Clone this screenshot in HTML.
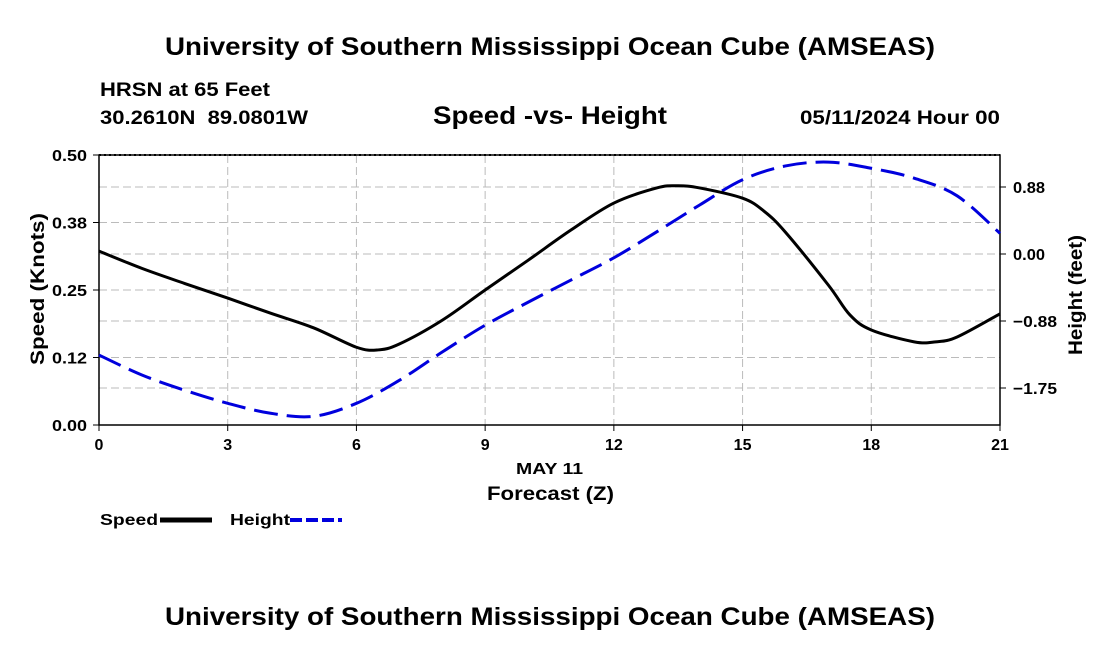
<!DOCTYPE html>
<html><head><meta charset="utf-8"><style>
body{margin:0;background:#fff;}
svg text{font-family:"Liberation Sans",Arial,sans-serif;font-weight:bold;fill:#000;white-space:pre;}
</style></head><body>
<svg width="1100" height="650" viewBox="0 0 1100 650">
<text x="165" y="55" font-size="25" textLength="770" lengthAdjust="spacingAndGlyphs">University of Southern Mississippi Ocean Cube (AMSEAS)</text>
<text x="100" y="96" font-size="19" textLength="170" lengthAdjust="spacingAndGlyphs">HRSN at 65 Feet</text>
<text x="100" y="124" font-size="19" textLength="208" lengthAdjust="spacingAndGlyphs" xml:space="preserve">30.2610N  89.0801W</text>
<text x="433" y="124" font-size="25" textLength="234" lengthAdjust="spacingAndGlyphs">Speed -vs- Height</text>
<text x="800" y="124" font-size="19" textLength="200" lengthAdjust="spacingAndGlyphs">05/11/2024 Hour 00</text>
<g id="grid"></g>
<rect x="99" y="155" width="901" height="270" fill="none" stroke="#000" stroke-width="1.5"/>
<line x1="99" y1="155" x2="1000" y2="155" stroke="#000" stroke-width="2" stroke-dasharray="2,3"/>
<g id="axes"></g>
<g id="series"></g>
<text x="516" y="474" font-size="16" textLength="67" lengthAdjust="spacingAndGlyphs">MAY 11</text>
<text x="487" y="500" font-size="19" textLength="127" lengthAdjust="spacingAndGlyphs">Forecast (Z)</text>
<text x="44" y="289" font-size="19" text-anchor="middle" textLength="152" lengthAdjust="spacingAndGlyphs" transform="rotate(-90 44 289)">Speed (Knots)</text>
<text x="1082" y="295" font-size="19" text-anchor="middle" textLength="120" lengthAdjust="spacingAndGlyphs" transform="rotate(-90 1082 295)">Height (feet)</text>
<g>
<text x="100" y="525" font-size="16" textLength="58" lengthAdjust="spacingAndGlyphs">Speed</text>
<line x1="160" y1="520" x2="212" y2="520" stroke="#000" stroke-width="5"/></g>
<g>
<text x="230" y="525" font-size="16" textLength="60" lengthAdjust="spacingAndGlyphs">Height</text>
<line x1="290" y1="520" x2="342" y2="520" stroke="#0000dd" stroke-width="4" stroke-dasharray="12,4"/></g>
<text x="165" y="625" font-size="25" textLength="770" lengthAdjust="spacingAndGlyphs">University of Southern Mississippi Ocean Cube (AMSEAS)</text>
</svg>
<script>
const hours=[0,1,2,3,4,5,6,6.5,7,8,9,10,11,12,13,13.5,14,15,15.5,16,17,17.5,18,19,19.5,20,21];
const speed=[0.322,0.29,0.262,0.235,0.207,0.18,0.144,0.139,0.15,0.194,0.25,0.305,0.361,0.411,0.439,0.443,0.439,0.42,0.396,0.357,0.259,0.204,0.176,0.154,0.154,0.163,0.206];
const hHours=[0,1,2,3,4,5,6,7,8,9,10,11,12,13,14,15,16,17,18,19,20,21];
const height=[-1.32,-1.58,-1.78,-1.95,-2.08,-2.12,-1.95,-1.65,-1.28,-0.93,-0.63,-0.34,-0.05,0.29,0.64,0.97,1.15,1.20,1.12,0.99,0.76,0.27];
const xTicks=[0,3,6,9,12,15,18,21];
const leftTicks=[0,0.125,0.25,0.375,0.5];
const leftLabels=["0.00","0.12","0.25","0.38","0.50"];
const rightTicks=[-1.75,-0.875,0,0.875];
const rightLabels=["\u22121.75","\u22120.88","0.00","0.88"];
const NS="http://www.w3.org/2000/svg";
const X=h=>99+h/21*901;
const YL=v=>425-v/0.5*270;
const YR=v=>254-v/0.875*67;
function mk(t,a,p){const e=document.createElementNS(NS,t);for(const k in a)e.setAttribute(k,a[k]);p.appendChild(e);return e;}
const grid=document.getElementById('grid'),axes=document.getElementById('axes'),ser=document.getElementById('series');
xTicks.forEach(h=>{
 if(h>0&&h<21){const l=mk('line',{x1:X(h),x2:X(h),y1:155,y2:425,stroke:'#bbb','stroke-dasharray':'8,4'},grid);
 
 }
 mk('line',{x1:X(h),x2:X(h),y1:425,y2:431,stroke:'#000'},axes);
 const t=mk('text',{x:X(h),y:450,'font-size':16,'text-anchor':'middle'},axes);t.textContent=h;
 
 
});
leftTicks.forEach((v,i)=>{
 if(v>0&&v<0.5){const l=mk('line',{x1:99,x2:1000,y1:YL(v),y2:YL(v),stroke:'#bbb','stroke-dasharray':'8,4'},grid);
 
 }
 mk('line',{x1:93,x2:99,y1:YL(v),y2:YL(v),stroke:'#000'},axes);
 const t=mk('text',{x:52,y:YL(v)+6,'font-size':16,textLength:35,lengthAdjust:'spacingAndGlyphs'},axes);t.textContent=leftLabels[i];
 
 
});
rightTicks.forEach((v,i)=>{
 const l=mk('line',{x1:99,x2:1000,y1:YR(v),y2:YR(v),stroke:'#bbb','stroke-dasharray':'8,4'},grid);
 
 
 mk('line',{x1:1000,x2:1006,y1:YR(v),y2:YR(v),stroke:'#000'},axes);
 const t=mk('text',{x:1013,y:YR(v)+6,'font-size':16,textLength:(rightLabels[i].length>4?44:32),lengthAdjust:'spacingAndGlyphs'},axes);t.textContent=rightLabels[i];
 
 
});
function smooth(pts){let d='M'+pts[0][0]+','+pts[0][1];
 for(let i=0;i<pts.length-1;i++){const p0=pts[Math.max(0,i-1)],p1=pts[i],p2=pts[i+1],p3=pts[Math.min(pts.length-1,i+2)];
 d+=' C'+(p1[0]+(p2[0]-p0[0])/6)+','+(p1[1]+(p2[1]-p0[1])/6)+' '+(p2[0]-(p3[0]-p1[0])/6)+','+(p2[1]-(p3[1]-p1[1])/6)+' '+p2[0]+','+p2[1];}
 return d;}
const hp=mk('path',{d:smooth(hHours.map((h,i)=>[X(h),YR(height[i])])),fill:'none',stroke:'#0000dd','stroke-width':3,'stroke-dasharray':'24,9'},ser);


const sp=mk('path',{d:smooth(hours.map((h,i)=>[X(h),YL(speed[i])])),fill:'none',stroke:'#000','stroke-width':3},ser);


</script>
</body></html>
